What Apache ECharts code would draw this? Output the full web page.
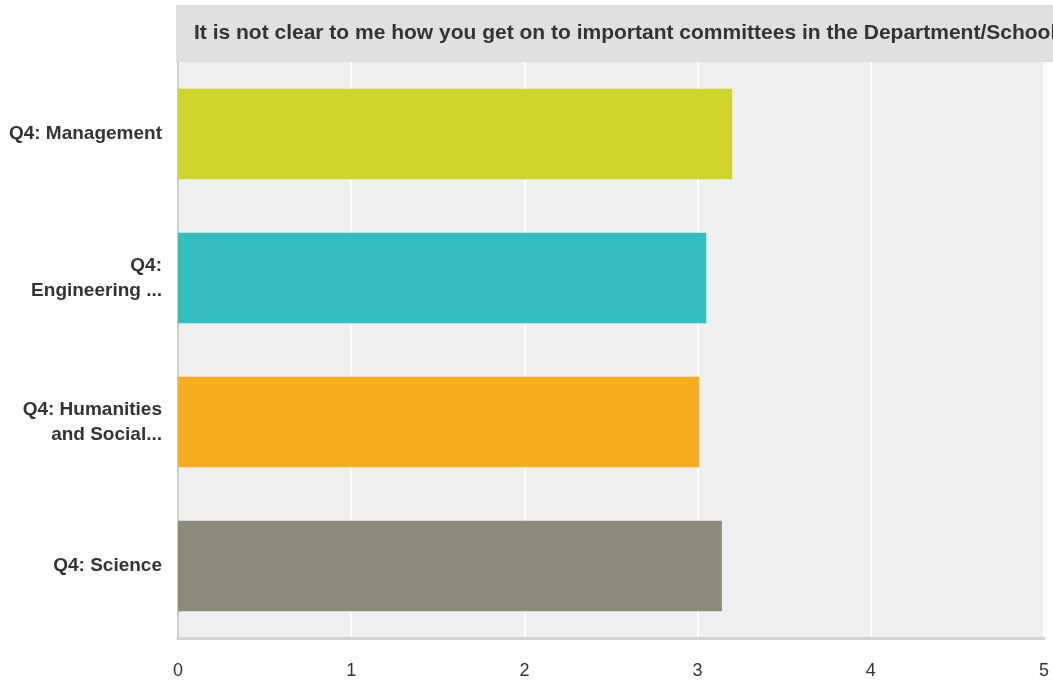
<!DOCTYPE html>
<html>
<head>
<meta charset="utf-8">
<script src="https://cdn.jsdelivr.net/npm/echarts@6/dist/echarts.min.js"></script>
<style>
  html, body { margin: 0; padding: 0; background: #fff; }
  #main { width: 1053px; height: 686px; }
</style>
</head>
<body>
<div id="main"></div>
<script>
const titleText = 'It is not clear to me how you get on to important committees in the Department/School';
const categories = ['Q4: Management', 'Q4:\nEngineering ...', 'Q4: Humanities\nand Social...', 'Q4: Science'];
const values = [3.20, 3.05, 3.01, 3.14];
const barColors = ['#cfd42a', '#34bdbf', '#f6ae20', '#8a8b7a'];
const xTicks = [0, 1, 2, 3, 4, 5];

const chart = echarts.init(document.getElementById('main'));

const option = {
  animation: false,
  graphic: [
    {
      type: 'rect',
      shape: { x: 176, y: 5, width: 900, height: 57 },
      style: { fill: '#e0e0e0' },
      silent: true
    },
    {
      type: 'text',
      x: 194,
      y: 33,
      style: {
        text: titleText,
        fill: '#333',
        font: 'bold 21px "Liberation Sans", Arial, sans-serif',
        verticalAlign: 'middle'
      },
      silent: true
    }
  ],
  grid: {
    left: 178,
    right: 9,
    top: 62,
    bottom: 48,
    show: true,
    backgroundColor: '#efefef',
    borderWidth: 0
  },
  xAxis: {
    type: 'value',
    min: 0,
    max: 5,
    interval: 1,
    axisLine: { show: true, lineStyle: { color: '#d4d4d4', width: 3 } },
    axisTick: { show: false },
    splitLine: { show: true, lineStyle: { color: '#ffffff', width: 2 } },
    axisLabel: {
      margin: 24,
      color: '#333',
      fontSize: 18,
      fontFamily: '"Liberation Sans Narrow", "Liberation Sans", Arial, sans-serif',
      formatter: v => xTicks.includes(v) ? String(v) : ''
    }
  },
  yAxis: {
    type: 'category',
    inverse: true,
    data: categories,
    axisLine: { show: true, lineStyle: { color: '#cccccc', width: 2 } },
    axisTick: { show: false },
    splitLine: { show: false },
    axisLabel: {
      margin: 16,
      color: '#333',
      fontSize: 19,
      fontWeight: 'bold',
      lineHeight: 25,
      align: 'right',
      fontFamily: '"Liberation Sans", Arial, sans-serif'
    }
  },
  series: [
    {
      type: 'bar',
      barWidth: '63%',
      data: values.map((v, i) => ({ value: v, itemStyle: { color: barColors[i] } }))
    }
  ]
};

chart.setOption(option);
</script>
</body>
</html>
